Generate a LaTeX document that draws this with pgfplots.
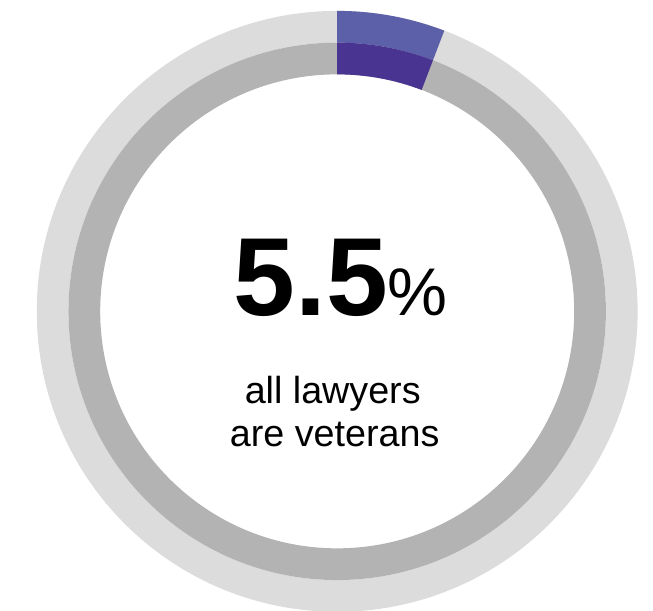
\documentclass[border=0pt]{standalone}
\usepackage{pgfplots}
\pgfplotsset{compat=1.18}
\usepackage{pgfplotstable}
\usepackage{fontspec}
\setmainfont{Liberation Sans}
\definecolor{ringlight}{HTML}{DCDCDC}
\definecolor{ringdark}{HTML}{B3B3B3}
\definecolor{purpleouter}{HTML}{5B60A8}
\definecolor{purpleinner}{HTML}{4A3492}
\pgfplotstableread{
ring rin rout value
outer 271 303 5.8
inner 239 271 5.8
}\donutdata
\begin{document}
\pgfplotstablegetelem{0}{value}\of\donutdata
\pgfmathsetmacro{\aOuter}{90-3.6*\pgfplotsretval}
\pgfplotstablegetelem{1}{value}\of\donutdata
\pgfmathsetmacro{\aInner}{90-3.6*\pgfplotsretval}
\begin{tikzpicture}
\begin{axis}[
  hide axis, scale only axis,
  width=653pt, height=616pt,
  xmin=-334.5, xmax=318.5, ymin=-302, ymax=314,
  clip=true,
]
\addplot[draw=none] coordinates {(0,0)};
\begin{scope}[shift={(axis cs:0,0)}]
  \fill[ringlight, even odd rule] (0:0pt) circle[radius=303pt] circle[radius=271pt];
  \fill[ringdark, even odd rule] (0:0pt) circle[radius=271pt] circle[radius=239pt];
  \fill[purpleouter] (90:303pt) arc[start angle=90, end angle=\aOuter, radius=303pt]
     -- (\aOuter:271pt) arc[start angle=\aOuter, end angle=90, radius=271pt] -- cycle;
  \fill[purpleinner] (90:271pt) arc[start angle=90, end angle=\aInner, radius=271pt]
     -- (\aInner:239pt) arc[start angle=\aInner, end angle=90, radius=239pt] -- cycle;
\end{scope}
\node[anchor=base, inner sep=0pt] at (axis cs:3.5,-4)
  {{\fontsize{112}{112}\selectfont\bfseries 5.5}{\fontsize{68}{68}\selectfont\%}};
\node[anchor=base, inner sep=0pt] at (axis cs:-4.5,-93)
  {\fontsize{38}{38}\selectfont all lawyers};
\node[anchor=base, inner sep=0pt] at (axis cs:-2.5,-136)
  {\fontsize{38}{38}\selectfont are veterans};
\end{axis}
\pgfresetboundingbox
\path[use as bounding box] (current axis.south west) rectangle (current axis.north east);
\end{tikzpicture}
\end{document}
